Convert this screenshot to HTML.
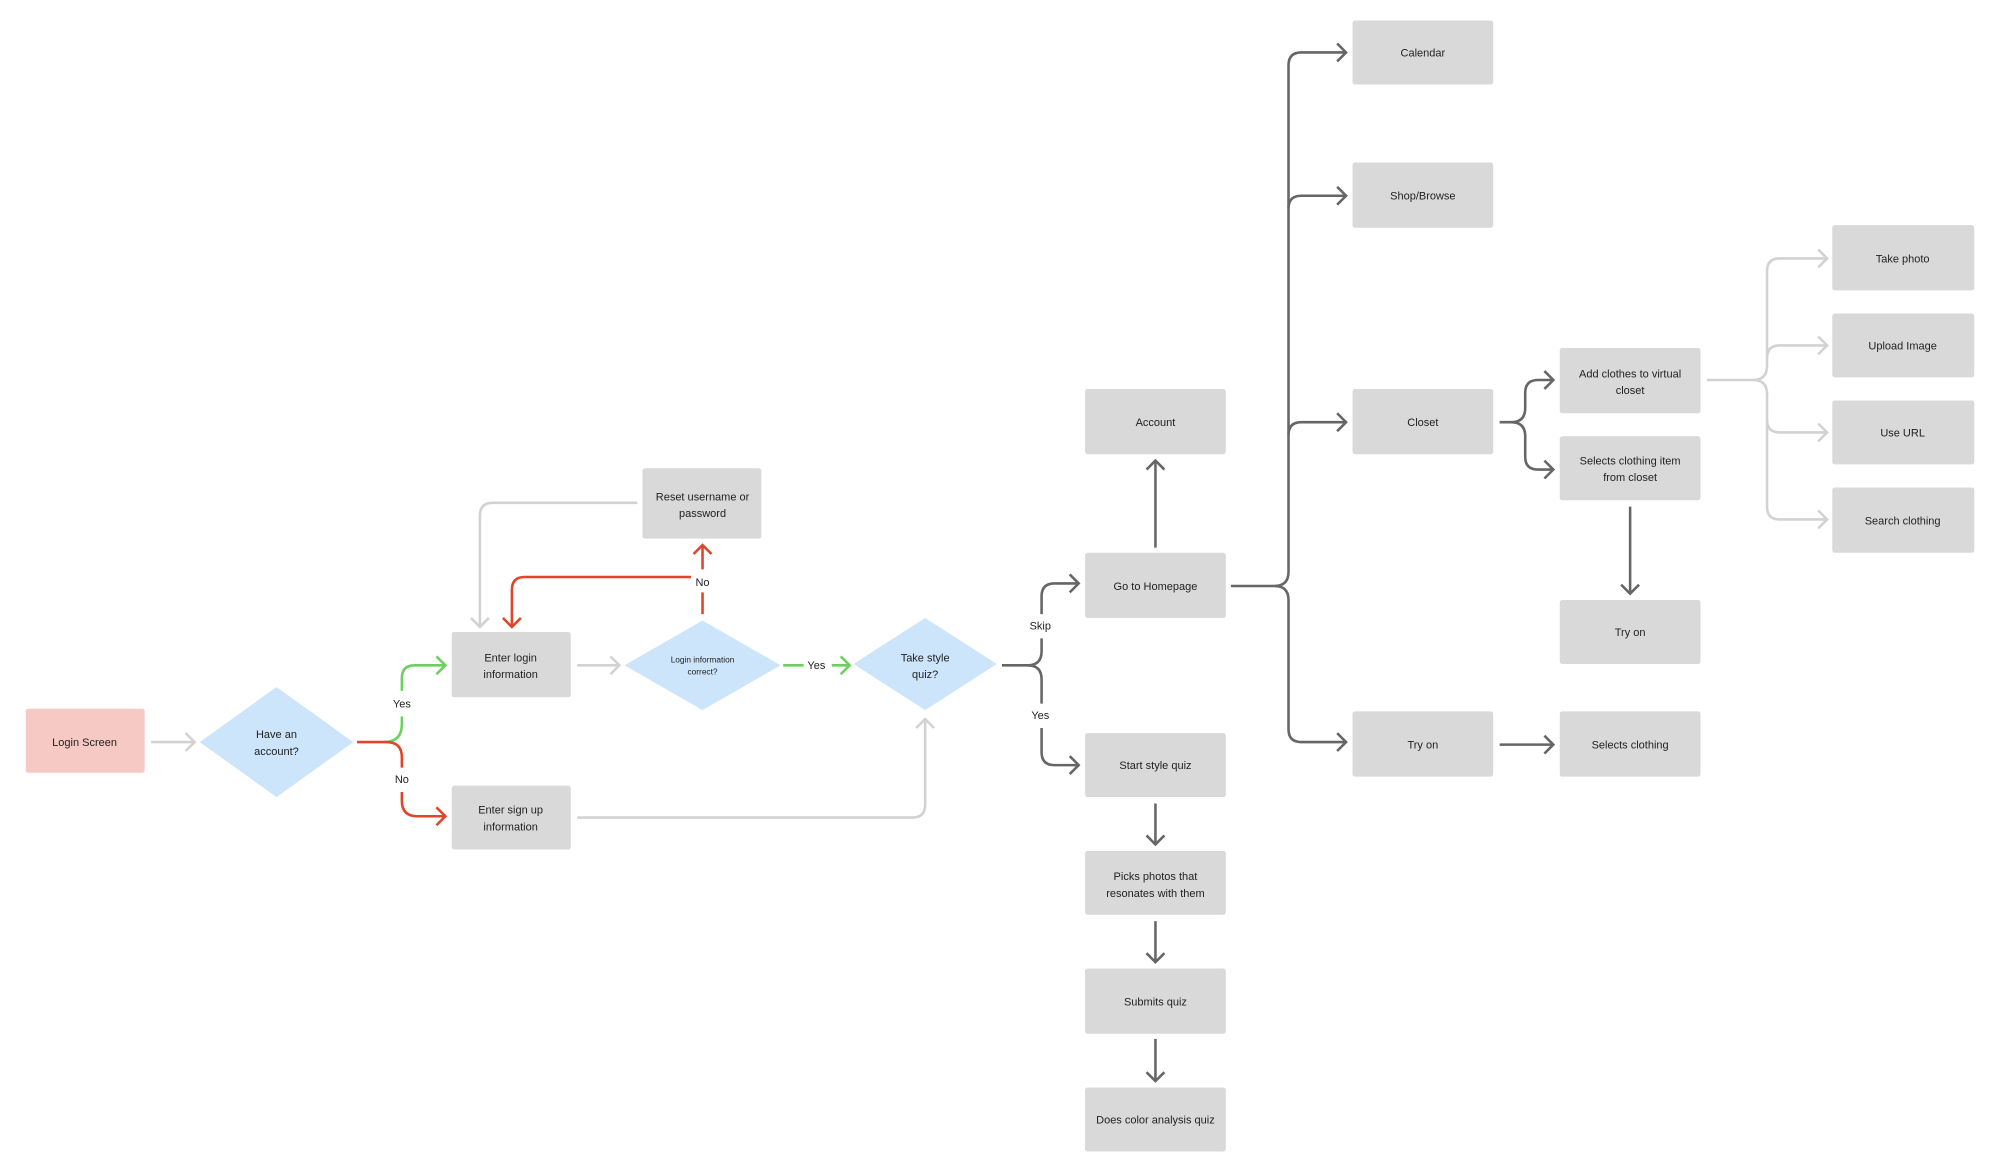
<!DOCTYPE html>
<html><head><meta charset="utf-8"><style>
html,body{margin:0;padding:0;background:#fff;}
svg{display:block;}
text{font-family:"Liberation Sans",sans-serif;font-size:8.6px;fill:#222;text-anchor:middle;}
</style></head><body>
<svg width="2000" height="1163" viewBox="0 0 1563 909" xmlns="http://www.w3.org/2000/svg">
<defs>
<marker id="ad" markerUnits="userSpaceOnUse" markerWidth="14" markerHeight="16" refX="10" refY="8" orient="auto"><path d="M3,1 L10,8 L3,15" fill="none" stroke="#666" stroke-width="2"/></marker>
<marker id="al" markerUnits="userSpaceOnUse" markerWidth="14" markerHeight="16" refX="10" refY="8" orient="auto"><path d="M3,1 L10,8 L3,15" fill="none" stroke="#d2d2d2" stroke-width="2"/></marker>
<marker id="ag" markerUnits="userSpaceOnUse" markerWidth="14" markerHeight="16" refX="10" refY="8" orient="auto"><path d="M3,1 L10,8 L3,15" fill="none" stroke="#6dcf5f" stroke-width="2"/></marker>
<marker id="ar" markerUnits="userSpaceOnUse" markerWidth="14" markerHeight="16" refX="10" refY="8" orient="auto"><path d="M3,1 L10,8 L3,15" fill="none" stroke="#e0452a" stroke-width="2"/></marker>
</defs>
<g fill="none" stroke-width="2">
<!-- light gray -->
<g stroke="#d2d2d2">
<path d="M118,580 H152" marker-end="url(#al)"/>
<path d="M451,520 H484" marker-end="url(#al)"/>
<path d="M498,393 H385 Q375,393 375,403 V490" marker-end="url(#al)"/>
<path d="M451,639 H713 Q723,639 723,629 V562" marker-end="url(#al)"/>
<path d="M1334,297 H1370 Q1381,297 1381,286 V212 Q1381,202 1391,202 H1428" marker-end="url(#al)"/>
<path d="M1381,280 Q1381,270 1391,270 H1428" marker-end="url(#al)"/>
<path d="M1381,306 V396 Q1381,406 1391,406 H1428" marker-end="url(#al)"/>
<path d="M1381,328 Q1381,338 1391,338 H1428" marker-end="url(#al)"/>
<path d="M1370,297 Q1381,297 1381,308"/>
</g>
<!-- green -->
<g stroke="#6dcf5f">
<path d="M300,580 Q314,580 314,566 V560"/>
<path d="M314,540 V530 Q314,520 324,520 H348" marker-end="url(#ag)"/>
<path d="M612,520 H628"/>
<path d="M650,520 H664" marker-end="url(#ag)"/>
</g>
<!-- red -->
<g stroke="#e0452a">
<path d="M279,580 H302 Q314,580 314,592 V600"/>
<path d="M314,619 V626 Q314,638 326,638 H348" marker-end="url(#ar)"/>
<path d="M549,480 V463"/>
<path d="M549,445 V426" marker-end="url(#ar)"/>
<path d="M540,451 H410 Q400,451 400,461 V490" marker-end="url(#ar)"/>
</g>
<!-- dark -->
<g stroke="#666">
<path d="M783,520 H803 Q814,520 814,509 V499"/>
<path d="M814,480 V466 Q814,456 824,456 H843" marker-end="url(#ad)"/>
<path d="M803,520 Q814,520 814,531 V550"/>
<path d="M814,569 V588 Q814,598 824,598 H843" marker-end="url(#ad)"/>
<path d="M903,428 V360" marker-end="url(#ad)"/>
<path d="M903,628 V660" marker-end="url(#ad)"/>
<path d="M903,720 V752" marker-end="url(#ad)"/>
<path d="M903,812 V845" marker-end="url(#ad)"/>
<path d="M962,458 H996 Q1007,458 1007,447 V51 Q1007,41 1017,41 H1052" marker-end="url(#ad)"/>
<path d="M1007,163 Q1007,153 1017,153 H1052" marker-end="url(#ad)"/>
<path d="M1007,340 Q1007,330 1017,330 H1052" marker-end="url(#ad)"/>
<path d="M996,458 Q1007,458 1007,469 V570 Q1007,580 1017,580 H1052" marker-end="url(#ad)"/>
<path d="M1172,330 H1181 Q1192,330 1192,319 V307 Q1192,297 1202,297 H1214" marker-end="url(#ad)"/>
<path d="M1181,330 Q1192,330 1192,341 V357 Q1192,367 1202,367 H1214" marker-end="url(#ad)"/>
<path d="M1274,396 V464" marker-end="url(#ad)"/>
<path d="M1172,582 H1214" marker-end="url(#ad)"/>
</g>
</g>
<!-- shapes -->
<rect x="20" y="554" width="93" height="50" rx="2" fill="#f6c9c4"/>
<g fill="#cce5fb">
<polygon points="216,537 276,580 216,623 156,580"/>
<polygon points="549,485 610,520 549,555 488,520"/>
<polygon points="723,483 779,519 723,555 667,519"/>
</g>
<g fill="#d9d9d9">
<rect x="353" y="494" width="93" height="51" rx="2"/>
<rect x="353" y="614" width="93" height="50" rx="2"/>
<rect x="502" y="366" width="93" height="55" rx="2"/>
<rect x="848" y="432" width="110" height="51" rx="2"/>
<rect x="848" y="304" width="110" height="51" rx="2"/>
<rect x="848" y="573" width="110" height="50" rx="2"/>
<rect x="848" y="665" width="110" height="50" rx="2"/>
<rect x="848" y="757" width="110" height="51" rx="2"/>
<rect x="848" y="850" width="110" height="50" rx="2"/>
<rect x="1057" y="16" width="110" height="50" rx="2"/>
<rect x="1057" y="127" width="110" height="51" rx="2"/>
<rect x="1057" y="304" width="110" height="51" rx="2"/>
<rect x="1057" y="556" width="110" height="51" rx="2"/>
<rect x="1219" y="272" width="110" height="51" rx="2"/>
<rect x="1219" y="341" width="110" height="50" rx="2"/>
<rect x="1219" y="469" width="110" height="50" rx="2"/>
<rect x="1219" y="556" width="110" height="51" rx="2"/>
<rect x="1432" y="176" width="111" height="51" rx="2"/>
<rect x="1432" y="245" width="111" height="50" rx="2"/>
<rect x="1432" y="313" width="111" height="50" rx="2"/>
<rect x="1432" y="381" width="111" height="51" rx="2"/>
</g>
<!-- labels -->
<text x="66" y="583">Login Screen</text>
<text x="216" y="577">Have an</text><text x="216" y="590">account?</text>
<text x="399" y="517">Enter login</text><text x="399" y="530">information</text>
<text x="399" y="636">Enter sign up</text><text x="399" y="649">information</text>
<text x="549" y="391">Reset username or</text><text x="549" y="404">password</text>
<text x="549" y="518" style="font-size:6.5px">Login information</text><text x="549" y="527" style="font-size:6.5px">correct?</text>
<text x="723" y="517">Take style</text><text x="723" y="530">quiz?</text>
<text x="314" y="553">Yes</text>
<text x="314" y="612">No</text>
<text x="638" y="523">Yes</text>
<text x="549" y="458">No</text>
<text x="813" y="492">Skip</text>
<text x="813" y="562">Yes</text>
<text x="903" y="333">Account</text>
<text x="903" y="461">Go to Homepage</text>
<text x="903" y="601">Start style quiz</text>
<text x="903" y="688">Picks photos that</text><text x="903" y="701">resonates with them</text>
<text x="903" y="786">Submits quiz</text>
<text x="903" y="878">Does color analysis quiz</text>
<text x="1112" y="44">Calendar</text>
<text x="1112" y="156">Shop/Browse</text>
<text x="1112" y="333">Closet</text>
<text x="1112" y="585">Try on</text>
<text x="1274" y="295">Add clothes to virtual</text><text x="1274" y="308">closet</text>
<text x="1274" y="363">Selects clothing item</text><text x="1274" y="376">from closet</text>
<text x="1274" y="497">Try on</text>
<text x="1274" y="585">Selects clothing</text>
<text x="1487" y="205">Take photo</text>
<text x="1487" y="273">Upload Image</text>
<text x="1487" y="341">Use URL</text>
<text x="1487" y="410">Search clothing</text>
</svg>
</body></html>
